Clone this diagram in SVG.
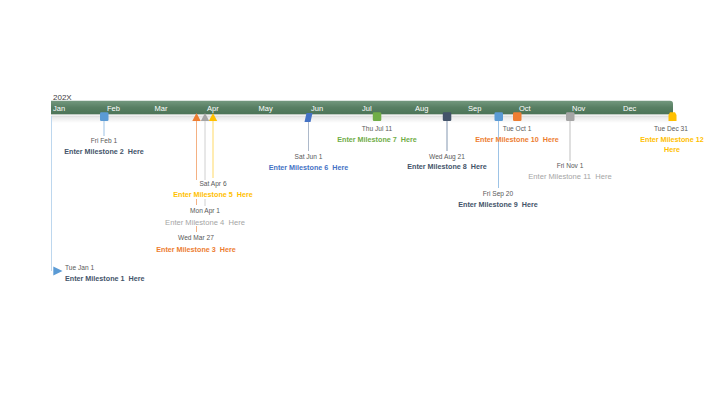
<svg xmlns="http://www.w3.org/2000/svg" width="716" height="403" viewBox="0 0 716 403">
<style>
text{font-family:"Liberation Sans",Arial,sans-serif}
.m{font-size:7.5px;fill:#ffffff}
.d{font-size:6.6px;fill:#595959;text-anchor:middle}
.t{font-size:7.2px;font-weight:bold;text-anchor:middle}
.tn{font-size:7.6px;text-anchor:middle;fill:#a5a5a5}
.stem{stroke-width:1;fill:none}
</style>
<defs>
<linearGradient id="bar" x1="0" y1="0" x2="0" y2="1">
<stop offset="0" stop-color="#73987e"/>
<stop offset="0.5" stop-color="#587f63"/>
<stop offset="1" stop-color="#4c7457"/>
</linearGradient>
<linearGradient id="shade" x1="0" y1="0" x2="0" y2="1">
<stop offset="0" stop-color="#bfbfbf"/>
<stop offset="0.35" stop-color="#e8e8e8"/>
<stop offset="1" stop-color="#ffffff"/>
</linearGradient>
</defs>
<rect width="716" height="403" fill="#ffffff"/>
<text x="53" y="99.5" style="font-size:8px;fill:#404040">202X</text>
<g id="timeline">
<rect x="51" y="114" width="622" height="9" fill="url(#shade)"/>
<rect x="51" y="114.3" width="622" height="1.6" fill="#f2f2f2"/>
<path d="M51,100.7 H670 Q673,100.7 673,103.7 V114.3 H51 Z" fill="url(#bar)"/>
<text class="m" x="53" y="110.5">Jan</text>
<text class="m" x="107" y="110.5">Feb</text>
<text class="m" x="154.5" y="110.5">Mar</text>
<text class="m" x="207" y="110.5">Apr</text>
<text class="m" x="258.5" y="110.5">May</text>
<text class="m" x="311" y="110.5">Jun</text>
<text class="m" x="362" y="110.5">Jul</text>
<text class="m" x="415" y="110.5">Aug</text>
<text class="m" x="468" y="110.5">Sep</text>
<text class="m" x="519" y="110.5">Oct</text>
<text class="m" x="572" y="110.5">Nov</text>
<text class="m" x="623" y="110.5">Dec</text>
</g>
<g id="connectors">
<line class="stem" x1="51.5" y1="116" x2="51.5" y2="271" stroke="#bdd7ee"/>
<line class="stem" x1="104" y1="121" x2="104" y2="136" stroke="#9dc3e6"/>
<path class="stem" d="M196.5,121 V180 M196.5,199 V205 M196.5,226 V232" stroke="#f4b183"/>
<path class="stem" d="M205,121 V180 M205,199 V206" stroke="#d0d0d0"/>
<line class="stem" x1="213" y1="121" x2="213" y2="178" stroke="#ffd966"/>
<line class="stem" x1="308.5" y1="122" x2="308.5" y2="151" stroke="#adb9ca"/>
<line class="stem" x1="447" y1="121" x2="447" y2="151" stroke="#8497b0"/>
<line class="stem" x1="498.5" y1="121" x2="498.5" y2="188" stroke="#9dc3e6"/>
<line class="stem" x1="570" y1="121" x2="570" y2="161" stroke="#bfbfbf"/>
</g>
<g id="milestone1">
<path d="M53.3,266.5 L62.5,271 L53.3,275.5 Z" fill="#5b9bd5"/>
<text x="65" y="269.5" style="font-size:6.6px;fill:#595959">Tue Jan 1</text>
<text x="65" y="281" style="font-size:7.2px;font-weight:bold;fill:#44546a">Enter Milestone 1&#160; Here</text>
</g>
<g id="milestone2">
<rect x="100" y="112.3" width="8.5" height="8.7" rx="1.2" fill="#5b9bd5"/>
<text class="d" x="104" y="142.5">Fri Feb 1</text>
<text class="t" x="104" y="154.3" fill="#44546a">Enter Milestone 2&#160; Here</text>
</g>
<g id="milestone3">
<path d="M196.5,113 L200.7,121 L192.3,121 Z" fill="#ed7d31"/>
<text class="d" x="196" y="240">Wed Mar 27</text>
<text class="t" x="196" y="251.8" fill="#ed7d31">Enter Milestone 3&#160; Here</text>
</g>
<g id="milestone4">
<path d="M205,113 L209.2,121 L200.8,121 Z" fill="#a5a5a5"/>
<text class="d" x="205" y="212.5">Mon Apr 1</text>
<text class="tn" x="205" y="224.6">Enter Milestone 4&#160; Here</text>
</g>
<g id="milestone5">
<path d="M213,113 L217.2,121 L208.8,121 Z" fill="#ffc000"/>
<text class="d" x="213" y="185.7">Sat Apr 6</text>
<text class="t" x="213" y="196.8" fill="#ffc000">Enter Milestone 5&#160; Here</text>
</g>
<g id="milestone6">
<path d="M306.5,113 H312.5 L310.5,122 H304.5 Z" fill="#4472c4"/>
<text class="d" x="308.5" y="158.5">Sat Jun 1</text>
<text class="t" x="308.5" y="170.3" fill="#4472c4">Enter Milestone 6&#160; Here</text>
</g>
<g id="milestone7">
<rect x="372.8" y="112.3" width="8.5" height="8.7" rx="1.2" fill="#70ad47"/>
<text class="d" x="377" y="130.7">Thu Jul 11</text>
<text class="t" x="377" y="141.8" fill="#70ad47">Enter Milestone 7&#160; Here</text>
</g>
<g id="milestone8">
<rect x="442.8" y="112.3" width="8.5" height="8.7" rx="1.2" fill="#44546a"/>
<text class="d" x="447" y="158.5">Wed Aug 21</text>
<text class="t" x="447" y="169.3" fill="#44546a">Enter Milestone 8&#160; Here</text>
</g>
<g id="milestone9">
<rect x="494.5" y="112.3" width="8.5" height="8.7" rx="1.2" fill="#5b9bd5"/>
<text class="d" x="498" y="195.7">Fri Sep 20</text>
<text class="t" x="498" y="206.6" fill="#44546a">Enter Milestone 9&#160; Here</text>
</g>
<g id="milestone10">
<rect x="513" y="112.3" width="8.5" height="8.7" rx="1.2" fill="#ed7d31"/>
<text class="d" x="517" y="130.7">Tue Oct 1</text>
<text class="t" x="517" y="141.8" fill="#ed7d31">Enter Milestone 10&#160; Here</text>
</g>
<g id="milestone11">
<rect x="566" y="112.3" width="8.5" height="8.7" rx="1.2" fill="#a5a5a5"/>
<text class="d" x="570" y="168">Fri Nov 1</text>
<text class="tn" x="570" y="179.3">Enter Milestone 11&#160; Here</text>
</g>
<g id="milestone12">
<path d="M670,112.3 H675 L676.5,115 V121 H668.5 V115 Z" fill="#ffc000"/>
<text class="d" x="671" y="130.7">Tue Dec 31</text>
<text class="t" x="672" y="141.8" fill="#ffc000">Enter Milestone 12</text>
<text class="t" x="672" y="152" fill="#ffc000">Here</text>
</g>
</svg>
